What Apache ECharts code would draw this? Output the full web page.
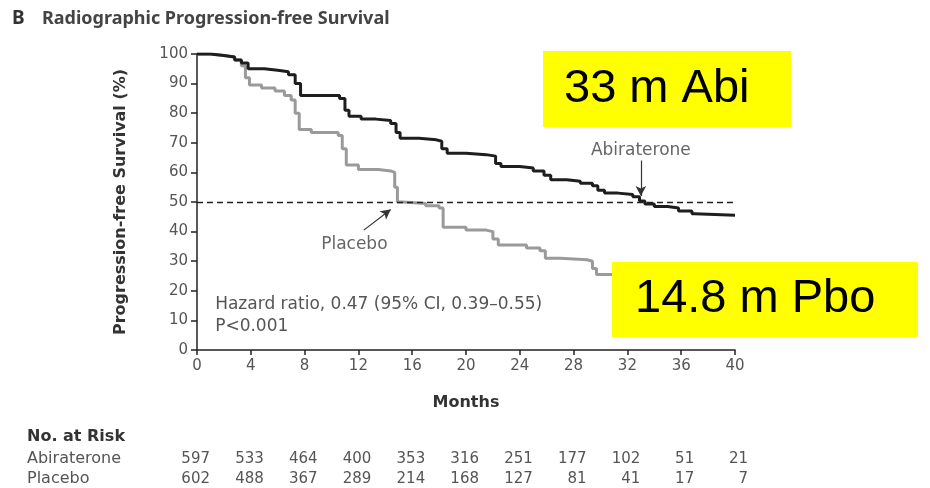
<!DOCTYPE html>
<html>
<head>
<meta charset="utf-8">
<script src="https://cdn.jsdelivr.net/npm/echarts@6/dist/echarts.min.js"></script>
<style>
html,body{margin:0;padding:0;background:#fff;}
#c{width:930px;height:488px;}
</style>
</head>
<body>
<div id="c"></div>
<script>
// ---- data ----
const monthTicks = [0, 4, 8, 12, 16, 20, 24, 28, 32, 36, 40];
const abiMonths = [0, 1.0, 2.0, 2.8, 3.3, 3.8, 5.0, 6.0, 6.8, 7.3, 7.7, 10.6, 11.0, 11.3, 12.2, 13.3, 14.4, 14.8, 15.1, 16.5, 17.8, 18.2, 18.6, 20.0, 21.5, 22.2, 22.6, 24.0, 25.0, 25.8, 26.3, 27.5, 28.5, 29.4, 29.8, 30.3, 31.3, 32.4, 32.9, 33.3, 34.0, 35.0, 35.8, 36.8, 37.0, 40.0];
const abiValues = [100, 99.5, 99, 98, 97, 95, 94.5, 94, 93, 90, 86, 85, 81, 79, 78, 77.5, 76.5, 73.5, 71.5, 71, 70.5, 68, 66.5, 66, 65.5, 63, 62, 61.5, 60.5, 59, 57.5, 57, 56.3, 55.5, 54, 53, 52.5, 51.8, 50.3, 49.3, 48.5, 48, 47, 46, 45.5, 45.5];
const pboMonths = [0, 1.0, 2.0, 2.8, 3.3, 3.6, 3.9, 4.8, 5.8, 6.5, 7.0, 7.3, 7.6, 8.5, 10.5, 10.8, 11.1, 12.0, 13.5, 14.4, 14.7, 14.9, 15.3, 17.0, 18.0, 18.3, 20.0, 21.5, 22.0, 22.4, 24.5, 25.5, 25.9, 27.0, 29.0, 29.4, 29.7, 31.0, 32.5, 34.0, 36.0];
const pboValues = [100, 99.5, 99, 98, 96, 92, 89.5, 88.5, 87.5, 86, 84.5, 80, 74.5, 73.5, 72.5, 68, 62.5, 61, 60.5, 60, 55, 50, 49.5, 48.7, 48, 41.5, 40.5, 40, 37.5, 35.5, 34.5, 33.5, 31, 30.5, 30, 27.5, 25.5, 24.8, 23.5, 22.5, 21];
const riskAbi = [597, 533, 464, 400, 353, 316, 251, 177, 102, 51, 21];
const riskPbo = [602, 488, 367, 289, 214, 168, 127, 81, 41, 17, 7];
const medianLine = 50;

const FONT = '"DejaVu Sans", "Noto Sans", sans-serif';
const TFONT = '"Noto Sans", "Open Sans", sans-serif';
const chart = echarts.init(document.getElementById('c'), null, {renderer: 'canvas'});

const abiData = abiMonths.map((m, i) => [m, abiValues[i]]);
const pboData = pboMonths.map((m, i) => [m, pboValues[i]]);

const option = {
  animation: false,
  backgroundColor: '#fff',
  grid: {left: 197, right: 195, top: 54, bottom: 138, containLabel: false},
  xAxis: {
    type: 'value', min: 0, max: 40, interval: 4,
    axisLine: {show: true, lineStyle: {color: '#222', width: 1.5}},
    axisTick: {show: true, length: 5, lineStyle: {color: '#222', width: 1.5}},
    axisLabel: {color: '#555', fontSize: 15, fontFamily: FONT, margin: 9},
    splitLine: {show: false},
    name: 'Months', nameLocation: 'middle', nameGap: 45,
    nameTextStyle: {color: '#333', fontSize: 16, fontWeight: 'bold', fontFamily: FONT}
  },
  yAxis: {
    type: 'value', min: 0, max: 100, interval: 10,
    axisLine: {show: true, lineStyle: {color: '#222', width: 1.5}},
    axisTick: {show: true, length: 6, lineStyle: {color: '#222', width: 1.5}},
    axisLabel: {color: '#555', fontSize: 15, fontFamily: FONT, margin: 9},
    splitLine: {show: false},
    name: 'Progression-free Survival (%)', nameLocation: 'middle', nameGap: 68,
    nameTextStyle: {color: '#333', fontSize: 16, fontWeight: 'bold', fontFamily: FONT}
  },
  series: [
    {
      name: 'Placebo', type: 'line', step: 'end', data: pboData,
      showSymbol: false, symbol: 'none', clip: true,
      lineStyle: {color: '#9a9a9a', width: 3}, z: 2,
      markLine: {
        silent: true, symbol: ['none', 'arrow'], symbolSize: [8, 10],
        label: {show: false},
        lineStyle: {color: '#333', width: 1.2, type: 'solid'},
        data: [[{coord: [12.4, 40.5]}, {coord: [14.4, 47.5]}]]
      }
    },
    {
      name: 'Abiraterone', type: 'line', step: 'end', data: abiData,
      showSymbol: false, symbol: 'none', clip: true,
      lineStyle: {color: '#1e1e1e', width: 3}, z: 3,
      markLine: {
        silent: true, symbol: ['none', 'arrow'], symbolSize: [8, 10],
        label: {show: false},
        lineStyle: {color: '#333', width: 1.2, type: 'solid'},
        data: [
          [{coord: [33, 64]}, {coord: [33, 52]}]
        ]
      }
    },
    {
      name: 'median', type: 'line', data: [], z: 1,
      markLine: {
        silent: true, symbol: 'none', label: {show: false},
        lineStyle: {color: '#222', width: 1.3, type: [6, 4]},
        data: [[{coord: [0, medianLine]}, {coord: [40, medianLine]}]]
      }
    }
  ]
};
chart.setOption(option);

// ---- annotations & risk table ----
const g = [];
g.push({type: 'text', left: 12, top: 9, style: {text: 'B', font: 'bold 19px ' + TFONT, fill: '#333'}});
g.push({type: 'text', left: 42, top: 10, style: {text: 'Radiographic Progression-free Survival', font: 'bold 18px ' + TFONT, fill: '#444'}});

const pA = chart.convertToPixel({gridIndex: 0}, [33, 67.5]);
g.push({type: 'text', x: pA[0], y: pA[1], style: {text: 'Abiraterone', font: '17px ' + FONT, fill: '#666', align: 'center', verticalAlign: 'middle'}});
const pP = chart.convertToPixel({gridIndex: 0}, [11.7, 35.5]);
g.push({type: 'text', x: pP[0], y: pP[1], style: {text: 'Placebo', font: '17px ' + FONT, fill: '#666', align: 'center', verticalAlign: 'middle'}});
const pH = chart.convertToPixel({gridIndex: 0}, [1.35, 15.3]);
g.push({type: 'text', x: pH[0], y: pH[1], style: {text: 'Hazard ratio, 0.47 (95% CI, 0.39\u20130.55)', font: '17px ' + FONT, fill: '#555', verticalAlign: 'middle'}});
const pV = chart.convertToPixel({gridIndex: 0}, [1.35, 8.0]);
g.push({type: 'text', x: pV[0], y: pV[1], style: {text: 'P<0.001', font: '17px ' + FONT, fill: '#555', verticalAlign: 'middle'}});

// yellow call-out boxes
g.push({type: 'rect', shape: {x: 543, y: 51, width: 248, height: 76}, style: {fill: '#ffff00'}, z: 50});
g.push({type: 'text', x: 564, y: 89, z: 51, style: {text: '33 m Abi', font: '47px "Liberation Sans", Arial, sans-serif', fill: '#000', verticalAlign: 'middle'}});
g.push({type: 'rect', shape: {x: 612, y: 262, width: 306, height: 75}, style: {fill: '#ffff00'}, z: 50});
g.push({type: 'text', x: 635, y: 299, z: 51, style: {text: '14.8 m Pbo', font: '47px "Liberation Sans", Arial, sans-serif', fill: '#000', verticalAlign: 'middle'}});

// number at risk table
g.push({type: 'text', x: 27, y: 437, style: {text: 'No. at Risk', font: 'bold 16px ' + FONT, fill: '#333', verticalAlign: 'middle'}});
g.push({type: 'text', x: 27, y: 459, style: {text: 'Abiraterone', font: '16px ' + FONT, fill: '#555', verticalAlign: 'middle'}});
g.push({type: 'text', x: 27, y: 479, style: {text: 'Placebo', font: '16px ' + FONT, fill: '#555', verticalAlign: 'middle'}});
monthTicks.forEach((m, i) => {
  const px = chart.convertToPixel({gridIndex: 0}, [m, 0])[0];
  g.push({type: 'text', x: px + 13, y: 459, style: {text: String(riskAbi[i]), font: '15px ' + FONT, fill: '#555', align: 'right', verticalAlign: 'middle'}});
  g.push({type: 'text', x: px + 13, y: 479, style: {text: String(riskPbo[i]), font: '15px ' + FONT, fill: '#555', align: 'right', verticalAlign: 'middle'}});
});
chart.setOption({graphic: g});
</script>
</body>
</html>
